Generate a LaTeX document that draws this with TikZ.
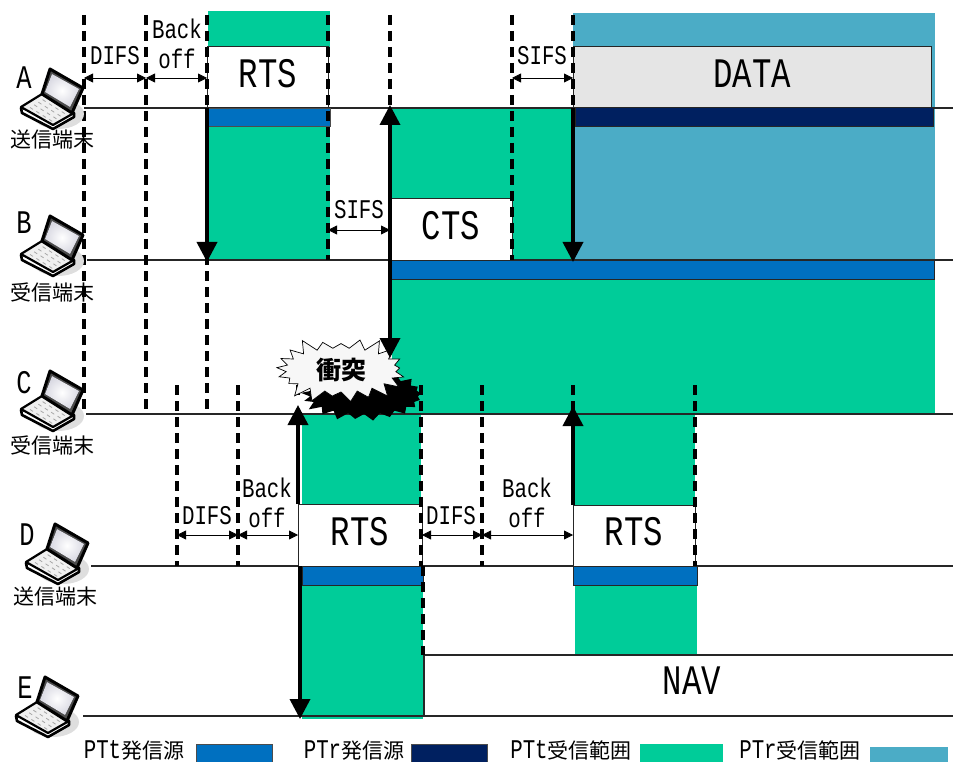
\documentclass[tikz,border=0pt]{standalone}
\usepackage{fontspec}
\setmainfont[FakeStretch=0.77]{Liberation Mono}
\newfontfamily\jpfont{Noto Sans CJK JP}
\usetikzlibrary{arrows.meta, shapes.symbols}

\definecolor{ptt}{HTML}{0070C0}
\definecolor{ptr}{HTML}{002060}
\definecolor{rxt}{HTML}{00CC99}
\definecolor{rxr}{HTML}{4BACC6}

\newcommand{\jp}[1]{{\jpfont\fontsize{21}{24}\selectfont #1}}

\begin{document}
\begin{tikzpicture}[
    x=1pt, y=-1pt,
    >=Stealth,
    force/.style={line width=3.6pt, -{Triangle[length=20pt, width=20pt]}},
    span/.style={line width=0.8pt, {Triangle[length=9pt, width=9pt]}-{Triangle[length=9pt, width=9pt]}},
    slot/.style={line width=3.2pt, dash pattern=on 10pt off 6pt},
    axis/.style={line width=1.2pt, black!85},
    frame/.style={line width=1pt, black!85},
    tag/.style={inner sep=0pt, align=center, font=\fontsize{27}{30}\selectfont},
    frame tag/.style={inner sep=0pt, font=\fontsize{42}{44}\selectfont},
    name tag/.style={inner sep=0pt, font=\fontsize{33}{36}\selectfont},
    laptop/.pic={
        % shadow
        \fill[black!13] (58,114) ellipse[x radius=26, y radius=15];
        % base
        \draw[line width=2.6pt, line join=round, fill=white] (21,108) -- (22,113) -- (53,129) -- (74,117) -- (74,113) -- cycle;
        \draw[line width=2.2pt, line join=round, fill=black!6] (21,107) -- (42,94) -- (74,113) -- (53,125) -- cycle;
        % keys
        \foreach \u in {0.2,0.4,...,0.8} {
            \foreach \v in {0.15,0.35,...,0.8} {
                \draw[black!35, line width=0.8pt] ({21+21*\u+32*\v},{107-13*\u+20*\v}) -- ++(3,2);
            }
        }
        % screen
        \draw[line width=3pt, line join=round, fill=black!70] (50,69) -- (83,88) -- (72,113) -- (42,94) -- cycle;
        \fill[inner color=white, outer color=blue!25!black!15] (52,74) -- (79,89) -- (70,107) -- (45,92) -- cycle;
    },
]
\useasboundingbox (0,0) rectangle (953,762);

% --- Reception ranges ---
\fill[rxt] (208,11) rectangle (330,47);
\fill[rxt] (208,126) rectangle (330,260);
\fill[rxt] (392,108) rectangle (573,260);
\fill[rxt] (392,280) rectangle (935,414);
\fill[rxr] (573,13) rectangle (935,260);
\fill[rxt] (302,414) rectangle (421,504);
\fill[rxt] (302,585) rectangle (423,719);
\fill[rxt] (575,414) rectangle (695,505);
\fill[rxt] (575,585) rectangle (697,654);

% --- Terminal lines ---
\foreach \n/\x/\y in {A/84/108, B/87/260, C/86/414, D/91/566, E/83/716} {
    \coordinate (\n start) at (\x,\y);
    \coordinate (\n end) at (953,\y);
    \draw[axis] (\n start) -- (\n end);
}

% --- Transmitter bars ---
\filldraw[fill=ptt, draw=black!70, thin] (208,108) rectangle (330,126);
\filldraw[fill=ptt, draw=black!85, thin] (391,260) rectangle (934,279);
\filldraw[fill=ptt, draw=black!85, thin] (302,566) rectangle (423,585);
\filldraw[fill=ptt, draw=black!85, thin] (573,566) rectangle (697,585);
\filldraw[fill=ptr, draw=black!85, thin] (575,107) rectangle (933,126);

% --- Frames ---
\filldraw[frame, fill=white] (207,47) rectangle (328,108);
\filldraw[frame, fill=white] (390,199) rectangle (512,260);
\filldraw[frame, fill=white] (298,504) rectangle (422,566);
\filldraw[frame, fill=white] (573,505) rectangle (695,566);
\filldraw[frame, fill=black!10] (573,47) rectangle (931,108);

% NAV
\draw[axis] (953,655) -- (424,655) -- (424,716);

% --- Slot boundaries ---
\foreach \x/\a/\b in {84/15/414, 146/15/414, 207/15/414, 328/15/260, 390/15/108, 512/15/260, 573/15/108,
                      177/385/566, 238/385/566, 298/385/400, 421/385/566, 482/385/566, 573/385/414, 695/385/566,
                      423/566/655} {
    \draw[slot] (\x,\a) -- (\x,\b);
}

% --- Collision ---
\node[starburst, fill=black, inner sep=0pt, minimum width=128pt, minimum height=58pt,
      starburst points=21, starburst point height=10pt, random starburst=7] (crash) at (364,395) {};
\node[starburst, draw=black, fill=white!97!black, line width=0.7pt, inner sep=0pt, minimum width=138pt, minimum height=72pt,
      starburst points=21, starburst point height=14pt, random starburst=3,
      font=\jpfont\bfseries\fontsize{25}{27}\selectfont] (burst) at (341,370) {衝突};

% --- Interval spans ---
\foreach \n/\x/\y in {a0/84/78, a1/146/78, a2/207/78, a3/512/78, a4/573/78,
                      b0/328/230, b1/390/230,
                      d0/177/535, d1/238/535, d2/298/535, d3/422/535, d4/482/535, d5/573/535} {
    \coordinate (\n) at (\x,\y);
}
\draw[span] (a0) -- (a1);
\draw[span] (a1) -- (a2);
\draw[span] (a3) -- (a4);
\draw[span] (b0) -- (b1);
\draw[span] (d0) -- (d1);
\draw[span] (d1) -- (d2);
\draw[span] (d3) -- (d4);
\draw[span] (d4) -- (d5);

% --- Propagation arrows ---
\foreach \n/\x/\a/\b in {p0/207/108/262, p1/390/260/105, p2/390/260/358, p3/573/108/262,
                         p4/298/504/405, p5/573/505/406, p6/300/566/719} {
    \coordinate (\n from) at (\x,\a);
    \coordinate (\n to) at (\x,\b);
    \draw[force] (\n from) -- (\n to);
}

% --- Terminals ---
\pic (laptopA) at (0,0) {laptop};
\pic (laptopB) at (0,147) {laptop};
\pic (laptopC) at (0,302) {laptop};
\pic (laptopD) at (5,455) {laptop};
\pic (laptopE) at (-5,608) {laptop};
\node[name tag] (nameA) at (24,78) {A};
\node[name tag] (nameB) at (24,223) {B};
\node[name tag] (nameC) at (24,383) {C};
\node[name tag] (nameD) at (27,535) {D};
\node[name tag] (nameE) at (25,688) {E};
\node[inner sep=0pt] (roleA) at (52,140) {\jp{送信端末}};
\node[inner sep=0pt] (roleB) at (52,292) {\jp{受信端末}};
\node[inner sep=0pt] (roleC) at (52,445) {\jp{受信端末}};
\node[inner sep=0pt] (roleD) at (55,597) {\jp{送信端末}};

% --- Interval labels ---
\node[tag] (difsA) at (115,56) {DIFS};
\node[tag] (backA) at (177,44) {Back\\off};
\node[tag] (sifsA) at (542,56) {SIFS};
\node[tag] (sifsB) at (359,210) {SIFS};
\node[tag] (difsD) at (207,516) {DIFS};
\node[tag] (backD) at (267,503) {Back\\off};
\node[tag] (difsE) at (451,516) {DIFS};
\node[tag] (backE) at (527,503) {Back\\off};

% --- Frame labels ---
\node[frame tag] (rtsA) at (268,74) {RTS};
\node[frame tag] (data) at (752,74) {DATA};
\node[frame tag] (cts) at (451,226) {CTS};
\node[frame tag] (rtsD) at (360,532) {RTS};
\node[frame tag] (rtsE) at (634,532) {RTS};
\node[frame tag] (nav) at (692,681) {NAV};

% --- Legend ---
\node[tag] (keyA) at (134,750) {PTt\jp{発信源}};
\filldraw[fill=ptt, draw=black!70, thin] (196,744) rectangle (272,762);
\node[tag] (keyB) at (354,750) {PTr\jp{発信源}};
\filldraw[fill=ptr, draw=black!70, thin] (411,744) rectangle (487,762);
\node[tag] (keyC) at (571,750) {PTt\jp{受信範囲}};
\fill[rxt] (640,744) rectangle (723,762);
\node[tag] (keyD) at (800,750) {PTr\jp{受信範囲}};
\fill[rxr] (870,747) rectangle (948,762);

\end{tikzpicture}
\end{document}
